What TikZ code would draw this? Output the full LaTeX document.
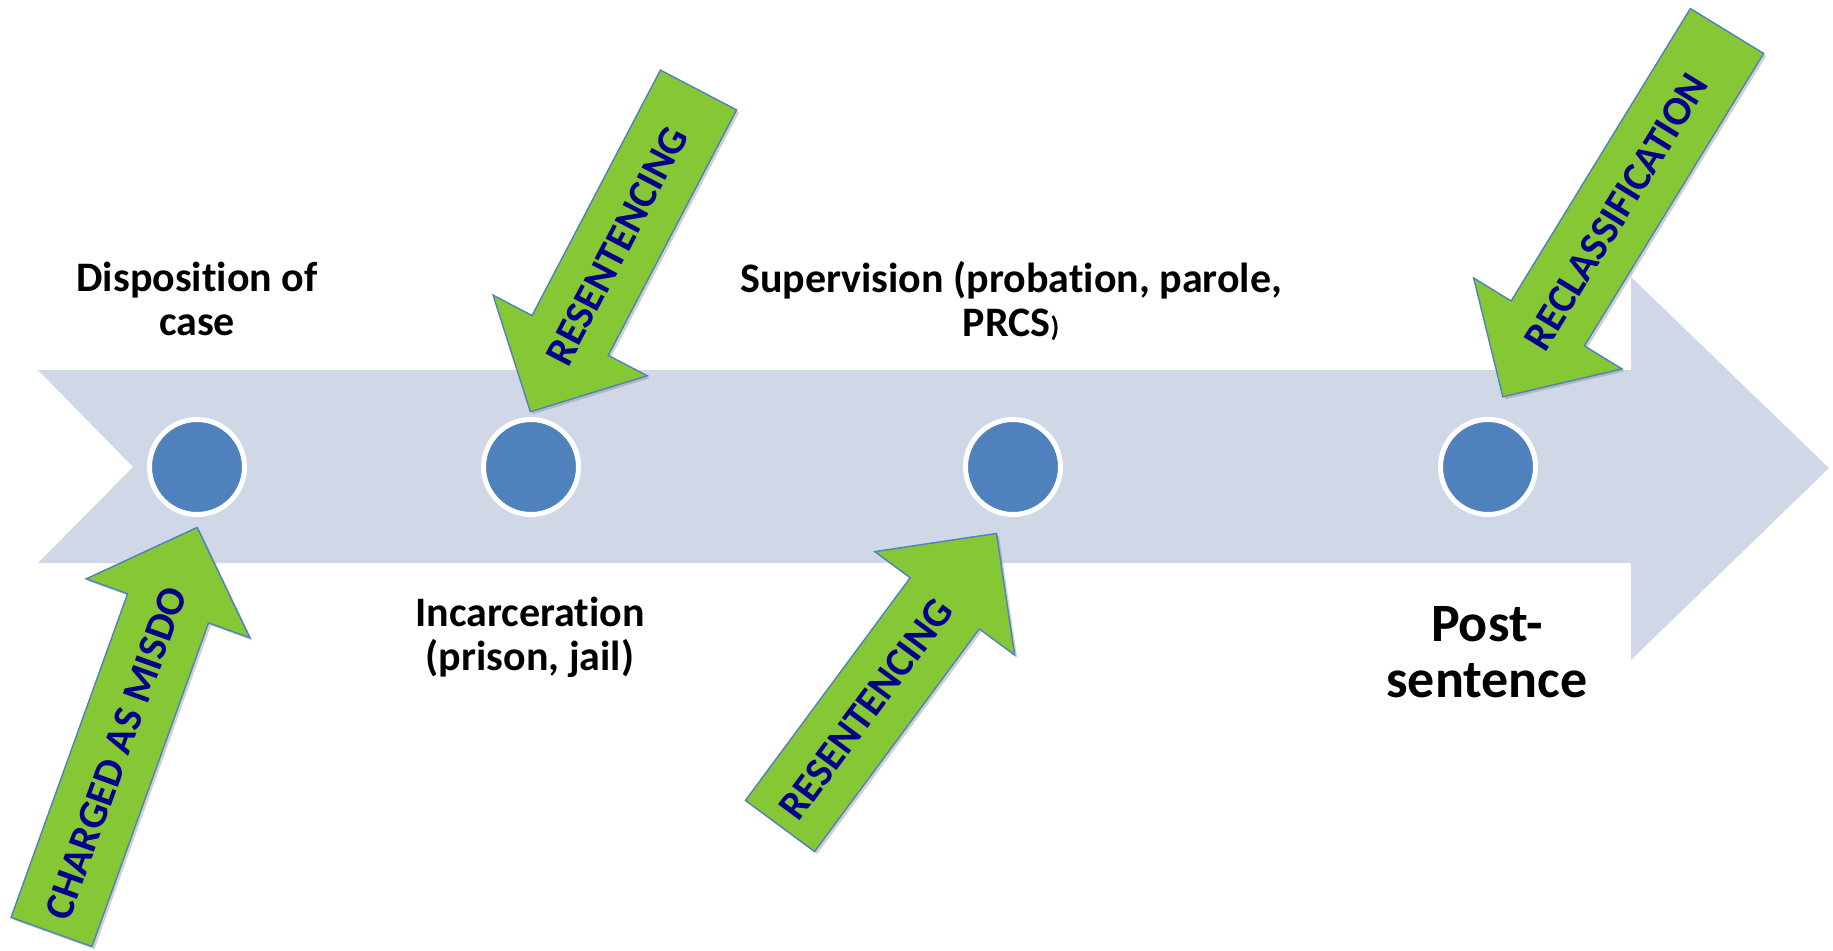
\documentclass[tikz,border=0pt]{standalone}
\usepackage{fontspec}
\setmainfont{Carlito}[Ligatures=NoCommon]
\definecolor{bandfill}{RGB}{208,216,232}
\definecolor{dotblue}{RGB}{79,129,189}
\definecolor{arrgreen}{RGB}{133,199,52}
\definecolor{arredge}{RGB}{79,129,189}
\definecolor{labblue}{RGB}{0,0,139}
\definecolor{shadowgray}{RGB}{120,120,120}
\tikzset{
  band/.style={fill=bandfill, draw=none},
  dot/.style={circle, fill=dotblue, draw=white, line width=5pt, minimum size=95pt, inner sep=0pt},
  garrow/.style={fill=arrgreen, draw=arredge, line width=1.4pt, line join=miter},
  gshadow/.style={fill=shadowgray, fill opacity=0.35, draw=none},
  glabel/.style={text=labblue, font=\fontsize{41}{41}\selectfont\bfseries, inner sep=0pt, anchor=center},
  steplabel/.style={text=black, font=\fontsize{42}{44}\selectfont\bfseries, align=center, inner sep=0pt, anchor=base},
  biglabel/.style={text=black, font=\fontsize{54}{56}\selectfont\bfseries, align=center, inner sep=0pt, anchor=base}
}
% #1 name, #2 tail x, #3 tail y, #4 angle, #5 length, #6 head base, #7 text along, #8 text rotation, #9 label
\newcommand{\greenarrow}[9]{%
  \begin{scope}[shift={(#2,#3)}]
    \begin{scope}[shift={(2.5pt,-2.5pt)}, rotate=#4]
      \fill[gshadow] (0pt,-43pt) -- (#6pt,-43pt) -- (#6pt,-87pt) -- (#5pt,0pt)
        -- (#6pt,87pt) -- (#6pt,43pt) -- (0pt,43pt) -- cycle;
    \end{scope}
    \begin{scope}[rotate=#4]
      \filldraw[garrow] (0pt,-43pt) -- (#6pt,-43pt) -- (#6pt,-87pt) -- (#5pt,0pt)
        -- (#6pt,87pt) -- (#6pt,43pt) -- (0pt,43pt) -- cycle;
      \node[glabel, rotate=#8] (#1) at (#7pt,0pt) {#9};
    \end{scope}
  \end{scope}}
\begin{document}
\begin{tikzpicture}[x=1pt, y=-1pt]
  \useasboundingbox (0,0) rectangle (1833,950);
  % timeline band
  \fill[band] (38,370) -- (1631,370) -- (1631,277) -- (1829,468) -- (1631,660)
    -- (1631,563) -- (38,563) -- (133,467) -- cycle;
  % stage dots
  \node[dot] (d1) at (197,467) {};
  \node[dot] (d2) at (531,467) {};
  \node[dot] (d3) at (1013,467) {};
  \node[dot] (d4) at (1488,467) {};
  % stage labels (base anchor = baseline of the last line)
  \node[steplabel] (disp) at (197,335) {Disposition of\\case};
  \node[steplabel] (sup) at (1011,336) {Supervision (probation, parole,\\PRCS{\fontsize{28}{30}\selectfont)}};
  \node[steplabel] (inc) at (530,670) {Incarceration\\(prison, jail)};
  \node[biglabel] (post) at (1487,697) {Post-\\sentence};
  % green arrows
  \greenarrow{charged}{51.5}{932}{70.2}{430}{344}{190}{70.2}{CHARGED AS MISDO}
  \greenarrow{resA}{698.5}{90}{-117.6}{363}{277}{176}{62.4}{RESENTENCING}
  \greenarrow{resB}{780}{826}{53.5}{364}{277}{145}{53.5}{RESENTENCING}
  \greenarrow{recl}{1727}{31}{-121.5}{429}{343}{212}{58.5}{RECLASSIFICATION}
\end{tikzpicture}
\end{document}
